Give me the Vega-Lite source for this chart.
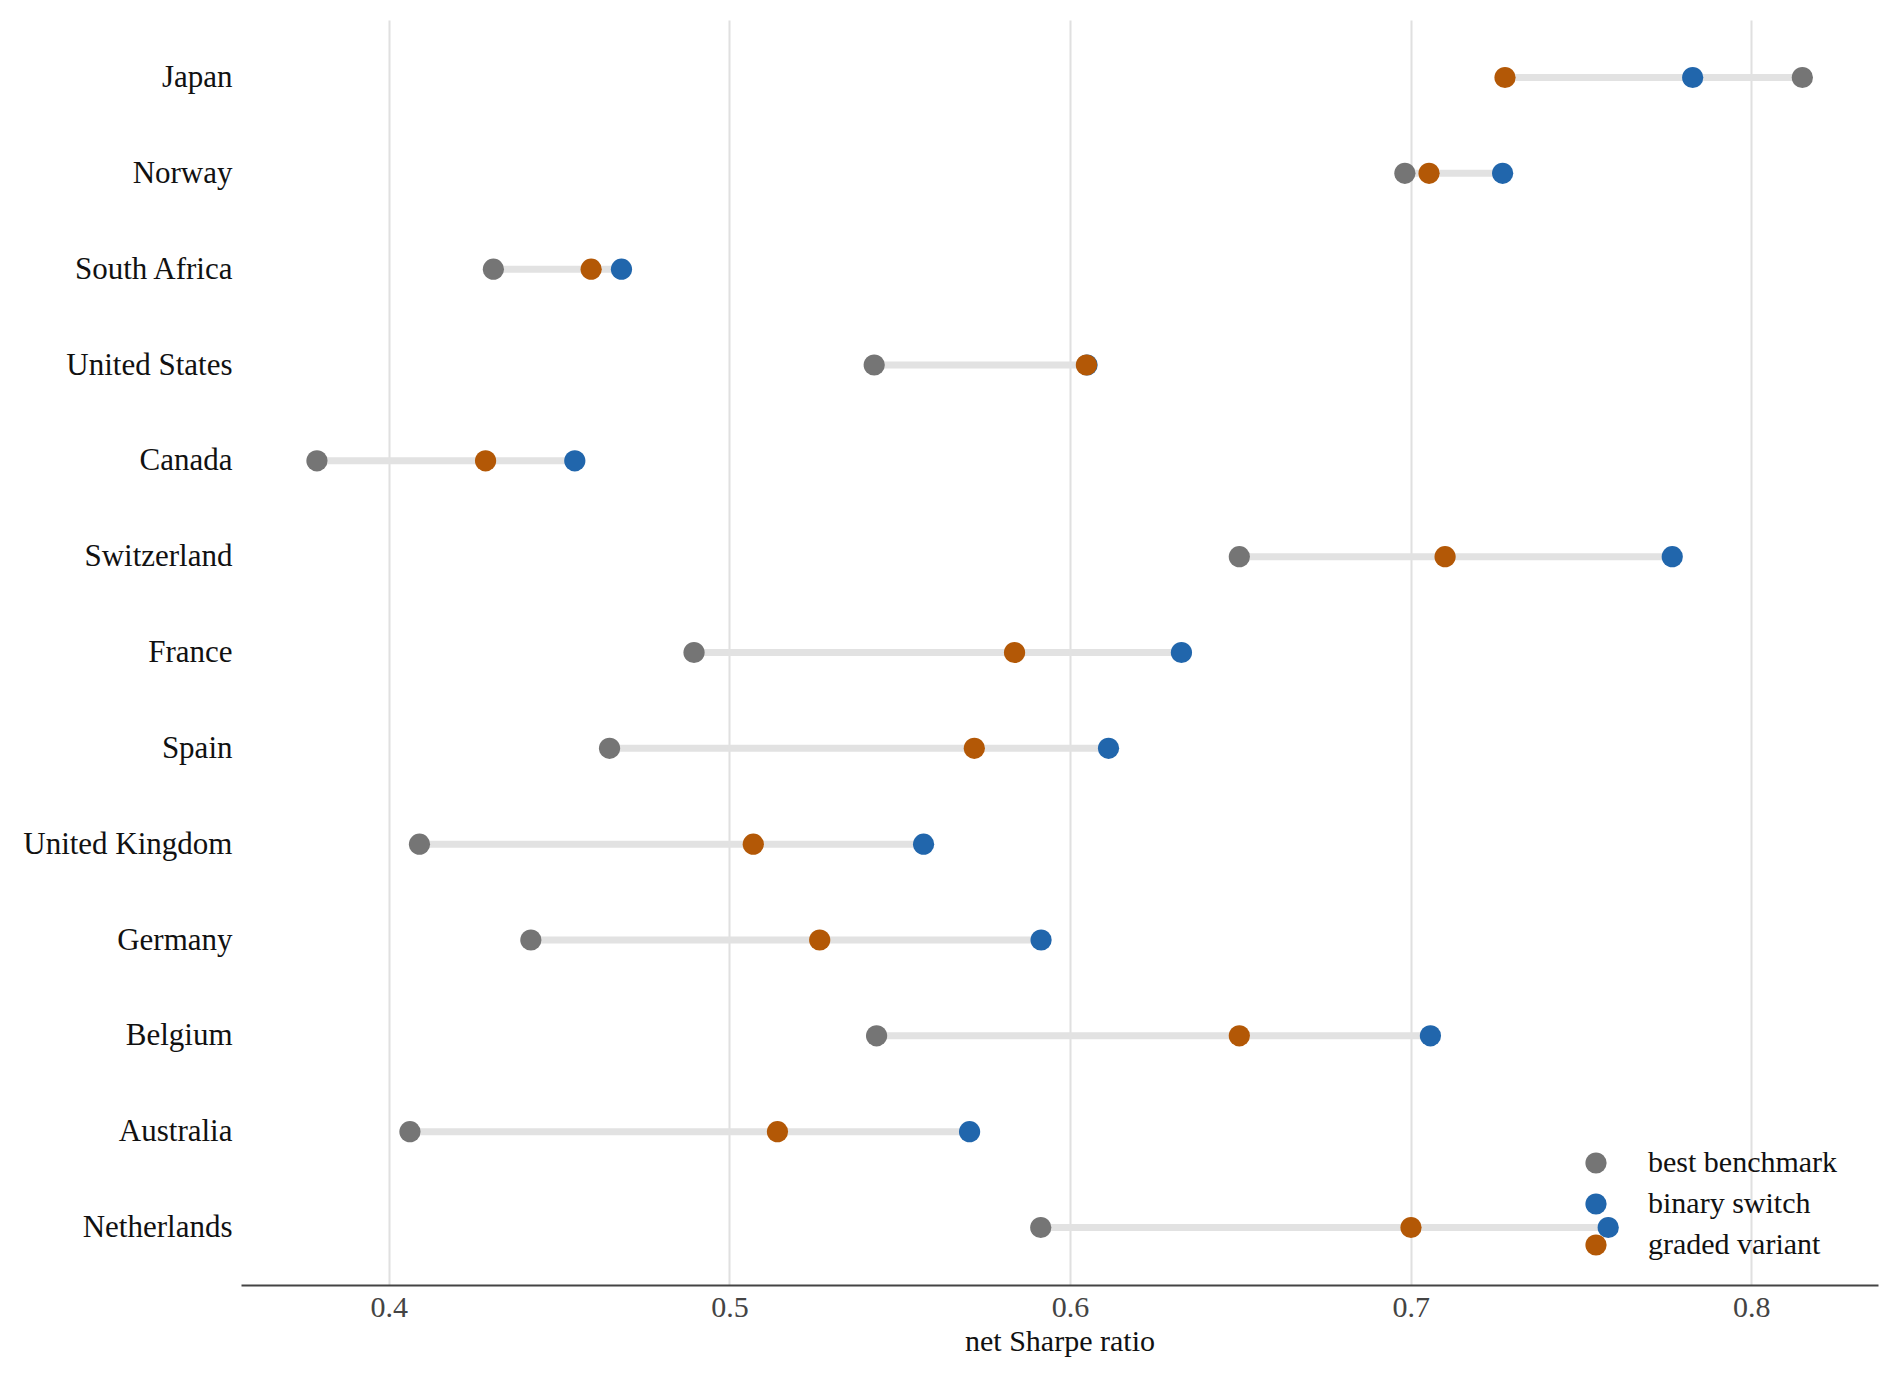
{
  "$schema": "https://vega.github.io/schema/vega-lite/v6.json",
  "autosize": "none",
  "width": 1637,
  "height": 1265,
  "padding": {"left": 241, "top": 20, "right": 19, "bottom": 92},
  "background": "white",
  "config": {
    "view": {"stroke": null},
    "font": "Liberation Serif"
  },
  "data": {
    "values": [
      {"country": "Japan", "method": "best benchmark", "value": 0.815},
      {"country": "Japan", "method": "binary switch", "value": 0.7828},
      {"country": "Japan", "method": "graded variant", "value": 0.7277},
      {"country": "Norway", "method": "best benchmark", "value": 0.6983},
      {"country": "Norway", "method": "binary switch", "value": 0.727},
      {"country": "Norway", "method": "graded variant", "value": 0.7054},
      {"country": "South Africa", "method": "best benchmark", "value": 0.4307},
      {"country": "South Africa", "method": "binary switch", "value": 0.4683},
      {"country": "South Africa", "method": "graded variant", "value": 0.4594},
      {"country": "United States", "method": "best benchmark", "value": 0.5425},
      {"country": "United States", "method": "binary switch", "value": 0.605},
      {"country": "United States", "method": "graded variant", "value": 0.6048},
      {"country": "Canada", "method": "best benchmark", "value": 0.3789},
      {"country": "Canada", "method": "binary switch", "value": 0.4546},
      {"country": "Canada", "method": "graded variant", "value": 0.4284},
      {"country": "Switzerland", "method": "best benchmark", "value": 0.6497},
      {"country": "Switzerland", "method": "binary switch", "value": 0.7768},
      {"country": "Switzerland", "method": "graded variant", "value": 0.7101},
      {"country": "France", "method": "best benchmark", "value": 0.4896},
      {"country": "France", "method": "binary switch", "value": 0.6327},
      {"country": "France", "method": "graded variant", "value": 0.5837},
      {"country": "Spain", "method": "best benchmark", "value": 0.4648},
      {"country": "Spain", "method": "binary switch", "value": 0.6113},
      {"country": "Spain", "method": "graded variant", "value": 0.5719},
      {"country": "United Kingdom", "method": "best benchmark", "value": 0.409},
      {"country": "United Kingdom", "method": "binary switch", "value": 0.557},
      {"country": "United Kingdom", "method": "graded variant", "value": 0.507},
      {"country": "Germany", "method": "best benchmark", "value": 0.4417},
      {"country": "Germany", "method": "binary switch", "value": 0.5915},
      {"country": "Germany", "method": "graded variant", "value": 0.5265},
      {"country": "Belgium", "method": "best benchmark", "value": 0.5432},
      {"country": "Belgium", "method": "binary switch", "value": 0.7058},
      {"country": "Belgium", "method": "graded variant", "value": 0.6497},
      {"country": "Australia", "method": "best benchmark", "value": 0.4062},
      {"country": "Australia", "method": "binary switch", "value": 0.5705},
      {"country": "Australia", "method": "graded variant", "value": 0.5141},
      {"country": "Netherlands", "method": "best benchmark", "value": 0.5914},
      {"country": "Netherlands", "method": "binary switch", "value": 0.758},
      {"country": "Netherlands", "method": "graded variant", "value": 0.7001}
    ]
  },
  "encoding": {
    "y": {
      "field": "country",
      "type": "nominal",
      "sort": ["Japan", "Norway", "South Africa", "United States", "Canada", "Switzerland", "France", "Spain", "United Kingdom", "Germany", "Belgium", "Australia", "Netherlands"],
      "scale": {"type": "point", "padding": 0.6},
      "axis": {
        "title": null,
        "domain": false,
        "ticks": false,
        "grid": false,
        "labelFont": "Liberation Serif",
        "labelFontSize": 31,
        "labelColor": "#111111",
        "labelPadding": 9,
        "labelLimit": 400
      }
    }
  },
  "layer": [
    {
      "mark": {"type": "rule", "color": "#e2e2e2", "strokeWidth": 7},
      "encoding": {
        "x": {
          "aggregate": "min",
          "field": "value",
          "type": "quantitative",
          "scale": {"domain": [0.3566, 0.8372], "nice": false, "zero": false},
          "axis": {
            "title": "net Sharpe ratio",
            "titleFont": "Liberation Serif",
            "titleFontSize": 30,
            "titleFontWeight": "normal",
            "titleColor": "#111111",
            "titlePadding": 4,
            "values": [0.4, 0.5, 0.6, 0.7, 0.8],
            "format": ".1f",
            "labelFont": "Liberation Serif",
            "labelFontSize": 30,
            "labelColor": "#444444",
            "labelPadding": 7,
            "ticks": false,
            "domainColor": "#444444",
            "domainWidth": 2,
            "grid": true,
            "gridColor": "#e0e0e0",
            "gridWidth": 2
          }
        },
        "x2": {"aggregate": "max", "field": "value"}
      }
    },
    {
      "mark": {"type": "circle", "size": 450, "opacity": 1},
      "encoding": {
        "x": {"field": "value", "type": "quantitative"},
        "color": {
          "field": "method",
          "type": "nominal",
          "scale": {
            "domain": ["best benchmark", "binary switch", "graded variant"],
            "range": ["#757575", "#2166ac", "#b35806"]
          },
          "legend": {
            "title": null,
            "orient": "none",
            "legendX": 1340,
            "legendY": 1128,
            "padding": 0,
            "symbolType": "circle",
            "symbolSize": 450,
            "symbolOpacity": 1,
            "symbolStrokeWidth": 0,
            "labelFont": "Liberation Serif",
            "labelFontSize": 30,
            "labelColor": "#111111",
            "labelOffset": 37,
            "labelLimit": 400,
            "rowPadding": 11
          }
        },
        "order": {"field": "method", "sort": "ascending"}
      }
    }
  ]
}
